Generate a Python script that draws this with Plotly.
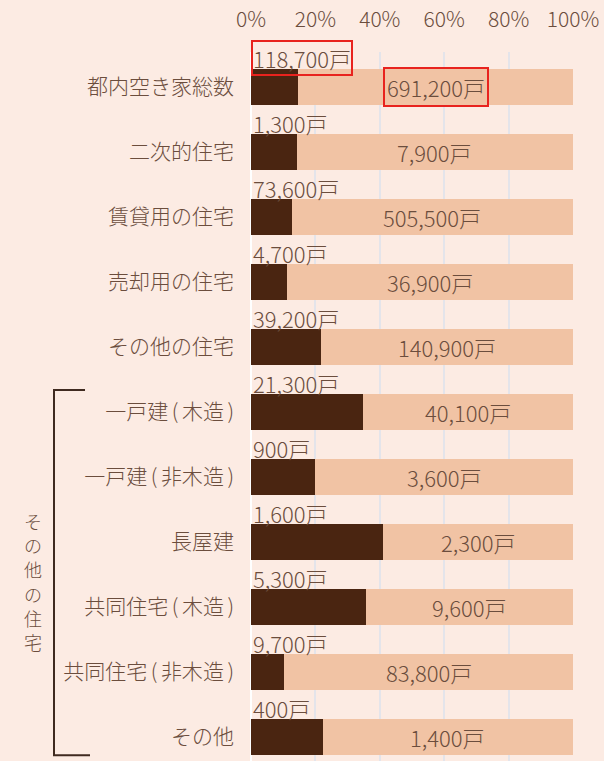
import plotly.graph_objects as go

# Vacant dwellings in Tokyo by type (units)
categories = [
    "都内空き家総数", "二次的住宅", "賃貸用の住宅", "売却用の住宅", "その他の住宅",
    "一戸建(木造)", "一戸建(非木造)", "長屋建", "共同住宅(木造)", "共同住宅(非木造)", "その他",
]
dark_values = [118700, 1300, 73600, 4700, 39200, 21300, 900, 1600, 5300, 9700, 400]
light_values = [691200, 7900, 505500, 36900, 140900, 40100, 3600, 2300, 9600, 83800, 1400]
tick_values = [0, 20, 40, 60, 80, 100]
tick_labels = ["0%", "20%", "40%", "60%", "80%", "100%"]
group_label = "その他の住宅"

BG = "#fcebe3"
DARK = "#4a2511"
LIGHT = "#f1c3a4"
TEXT = "#6b4d3d"
RED = "#e8231e"
FONT = "Noto Sans CJK JP"


def spaced_parens(label):
    """Give the half-width brackets a little air on both sides."""
    if "(" not in label:
        return label
    head, rest = label.split("(", 1)
    inner = rest.rstrip(")")
    sp = "letter-spacing:3.5px"
    return (f"{head[:-1]}<span style='{sp}'>{head[-1]}(</span>"
            f"{inner[:-1]}<span style='{sp}'>{inner[-1]}</span>)")


tick_text_y = [spaced_parens(c) for c in categories]

totals = [d + l for d, l in zip(dark_values, light_values)]
dark_pct = [d / t * 100 for d, t in zip(dark_values, totals)]
light_pct = [l / t * 100 for l, t in zip(light_values, totals)]

fig = go.Figure()
fig.add_trace(go.Bar(y=categories, x=dark_pct, orientation="h", marker=dict(color=DARK, line_width=0),
                     width=0.54, hoverinfo="skip"))
fig.add_trace(go.Bar(y=categories, x=light_pct, orientation="h", marker=dict(color=LIGHT, line_width=0),
                     width=0.54, hoverinfo="skip"))

label_font = dict(family=FONT, size=22, color=TEXT, weight=300)

annotations = []
for i, cat in enumerate(categories):
    boxed = i == 0
    # count of the dark segment, written above the bar
    annotations.append(dict(
        x=0, y=cat, xref="x", yref="y", xanchor="left", yanchor="middle", yshift=29,
        text=f"{dark_values[i]:,}戸", showarrow=False, font=label_font,
        bordercolor=RED if boxed else "rgba(0,0,0,0)", borderwidth=2, borderpad=0,
    ))
    # count of the light segment, centred in it
    annotations.append(dict(
        x=dark_pct[i] + light_pct[i] / 2, y=cat, xref="x", yref="y",
        xanchor="center", yanchor="middle",
        text=f"{light_values[i]:,}戸", showarrow=False, font=label_font,
        bordercolor=RED if boxed else "rgba(0,0,0,0)", borderwidth=2, borderpad=2,
    ))

# vertical group label for the breakdown of その他の住宅, one character per line
for k, ch in enumerate(group_label):
    annotations.append(dict(
        x=-0.677, y=6.67 + k * 0.375, xref="paper", yref="y", xanchor="center", yanchor="middle",
        text=ch, showarrow=False,
        font=dict(family=FONT, size=18, color=TEXT, weight=300),
    ))

bracket = dict(type="path", xref="paper", yref="y",
               path="M -0.5155 4.66 L -0.6118 4.66 L -0.6118 10.28 L -0.5 10.28",
               line=dict(color="#3f2a20", width=2))

fig.update_layout(
    barmode="stack",
    width=604, height=761,
    margin=dict(l=251, r=31, t=52, b=0),
    paper_bgcolor=BG, plot_bgcolor=BG,
    showlegend=False,
    annotations=annotations,
    shapes=[bracket],
    font=dict(family=FONT, color=TEXT),
    xaxis=dict(
        side="top", range=[0, 100], tickvals=tick_values, ticktext=tick_labels,
        showgrid=True, gridcolor="#e4e4ea", gridwidth=2,
        zeroline=True, zerolinecolor="#ffffff", zerolinewidth=2,
        tickfont=dict(family=FONT, size=21, color=TEXT, weight=300),
        ticks="", ticklabelstandoff=20, fixedrange=True,
    ),
    yaxis=dict(
        type="category", range=[10.369, -0.538],
        tickvals=categories, ticktext=tick_text_y,
        showgrid=False, zeroline=False, ticks="",
        tickfont=dict(family=FONT, size=21, color=TEXT, weight=300),
        ticklabelstandoff=16, fixedrange=True,
    ),
)

fig.write_html("out.html")
